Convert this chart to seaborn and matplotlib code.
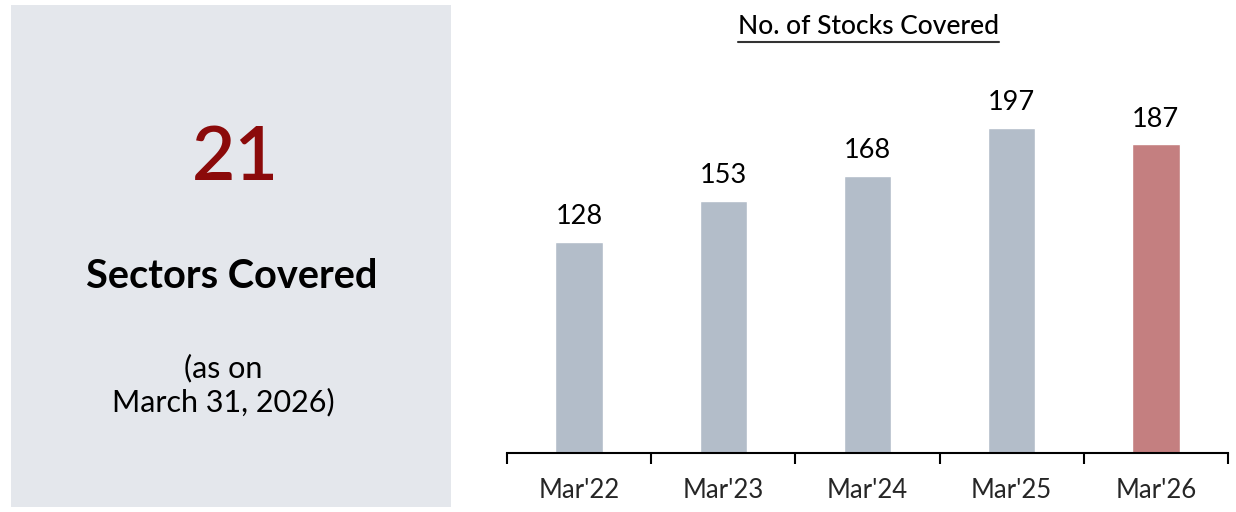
import pandas as pd
import seaborn as sns
import matplotlib.pyplot as plt
from matplotlib.patches import Rectangle
from matplotlib.lines import Line2D

periods = ["Mar'22", "Mar'23", "Mar'24", "Mar'25", "Mar'26"]
stocks = [128, 153, 168, 197, 187]
bar_colors = ["#B3BDC9", "#B3BDC9", "#B3BDC9", "#B3BDC9", "#C47F80"]
sectors = "21"

df = pd.DataFrame({"period": periods, "stocks": stocks})

sns.set_style("white")
plt.rcParams['font.family'] = ['Lato', 'DejaVu Sans']

fig = plt.figure(figsize=(12.36, 5.12), dpi=100)

# left info box
fig.patches.append(Rectangle((11 / 1236, 5 / 512), 440 / 1236, 502 / 512,
                             transform=fig.transFigure, facecolor="#E4E7EC",
                             edgecolor="none", zorder=0))
fig.text(235 / 1236, 1 - 158 / 512, sectors, ha="center", va="center",
         fontsize=54, color="#8B0A0A", fontweight="semibold")
fig.text(231.5 / 1236, 1 - 277 / 512, "Sectors Covered", ha="center", va="center",
         fontsize=28.6, fontweight="bold", color="black")
fig.text(223 / 1236, 1 - 385 / 512, "(as on\nMarch 31, 2026)", ha="center",
         va="center", fontsize=22, color="black", linespacing=1.2)

# bar chart
ax = fig.add_axes([507 / 1236, 59 / 512, 721 / 1236, 396 / 512])
sns.barplot(data=df, x="period", y="stocks", hue="period", palette=bar_colors,
            width=0.33, legend=False, ax=ax, saturation=1)
for c in ax.containers:
    ax.bar_label(c, padding=9, fontsize=19.5, color="black")

ax.set_xlim(-0.5, 4.5)
ax.set_ylim(0, 240)
ax.set_yticks([])
ax.set_xlabel("")
ax.set_ylabel("")
for s in ["top", "right", "left"]:
    ax.spines[s].set_visible(False)
ax.spines["bottom"].set_color("black")
ax.spines["bottom"].set_linewidth(1.5)
ax.set_xticks(range(len(periods)))
ax.set_xticklabels(periods, fontsize=18.5)
ax.set_xticks([i - 0.5 for i in range(len(periods) + 1)], minor=True)
ax.tick_params(axis="x", which="major", length=0, pad=18)
ax.tick_params(axis="x", which="minor", length=8, width=1.5, color="black",
               direction="out", bottom=True)
ax.set_facecolor("white")

# underlined title
title = fig.text(868 / 1236, 1 - 27 / 512, "No. of Stocks Covered", ha="center",
                 va="center", fontsize=19, color="black", fontweight="medium")
fig.canvas.draw()
bb = title.get_window_extent().transformed(fig.transFigure.inverted())
fig.lines.append(Line2D([bb.x0, bb.x1], [bb.y0 - 2 / 512, bb.y0 - 2 / 512],
                        transform=fig.transFigure, color="#333333", lw=1.5))

fig.savefig("out.png", dpi=100, facecolor="white")
